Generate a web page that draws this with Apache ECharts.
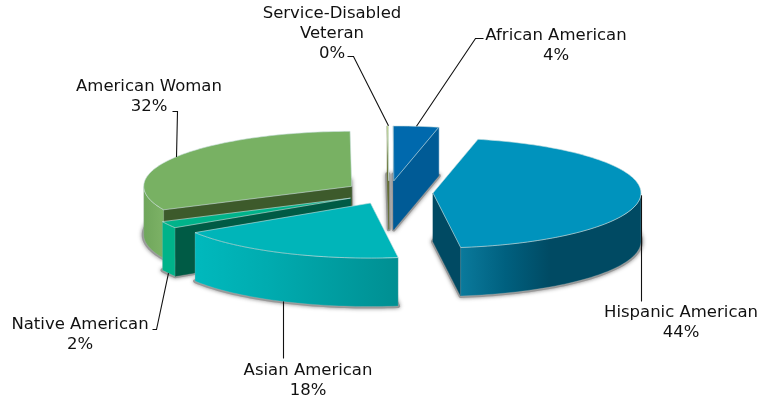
<!DOCTYPE html>
<html><head><meta charset="utf-8">
<style>html,body{margin:0;background:#fff}#c{width:773px;height:401px}</style>
<script src="https://cdn.jsdelivr.net/npm/echarts@6/dist/echarts.min.js"></script>
</head><body><div id="c"></div>
<script>
// data
const categories = ['Hispanic American','Asian American','Native American','American Woman','Service-Disabled\nVeteran','African American'];
const values = [44.4,18.1,2,31.9,0.1,3.5];

// styles, in category order
const topColors = ['#0093bd','#00b5b9','#00b38a','#78b163','#b5cc50','#0069ad'];
const cutColors = ['#004a63','#00908f','#005b45','#3d5a2b','#5f6a2a','#005b96'];
const wallStops = [
  [[0,'#0a7a9c'],[.25,'#00607f'],[.5,'#004a63'],[1,'#004a63']],
  [[0,'#00b9bd'],[.35,'#00acb0'],[1,'#008f92']],
  [[0,'#00b38a'],[1,'#00b38a']],
  [[0,'#6fa65b'],[1,'#7db266']],
  [[0,'#5f6a2a'],[1,'#5f6a2a']],
  [[0,'#005b96'],[1,'#005b96']]
];
// back-to-front painting order
const paintOrder = [5,4,3,2,0,1];
// pie geometry
const cx = 389, cy = 192.5, rx = 208, ry = 55, depth = 48.5, explode = 44, startAngle = 12.5;
// label layout: text centre, leader path offsets
const labelCentre = [[681,323],[308,381],[80,334.5],[149,96.5],[332,33.5],[556,45.5]];
const labelLeader = [[[0,106]],[[0,57]],[[-12,56],[-16,56]],[[1,-46],[-4,-46]],[[-35,-70],[-41,-70]],[[59,-88],[67,-88]]];
const leaderOnWall = [false,true,true,false,false,false];

const total = values.reduce((a,b)=>a+b,0);
const rad = d => d*Math.PI/180;
let acc = startAngle;
const slices = values.map((v,i)=>{
  const a0 = acc, a1 = acc + v/total*360; acc = a1;
  const mid = rad((a0+a1)/2);
  return {a0,a1,mid:(a0+a1)/2,
    ax: cx + explode*Math.sin(mid),
    ay: cy - explode*Math.cos(mid)*ry/rx};
});
const pt = (s,a,dy=0)=>[s.ax+rx*Math.sin(rad(a)), s.ay-ry*Math.cos(rad(a))+dy];
const arc = (s,a0,a1,dy=0)=>{
  const n = Math.max(2,Math.ceil(Math.abs(a1-a0)/1.5)), out=[];
  for(let k=0;k<=n;k++) out.push(pt(s,a0+(a1-a0)*k/n,dy));
  return out;
};
const apex = (s,dy=0)=>[s.ax,s.ay+dy];
const poly = (points,style,z2)=>({type:'polygon',shape:{points},style,z2});
const edge = 'rgba(205,225,225,0.75)';

function renderShadow(p){
  const i = paintOrder[p.dataIndex], s = slices[i];
  return poly([apex(s,depth),...arc(s,s.a0,s.a1,depth)],
    {fill:'#999',stroke:'#999',lineWidth:4,lineJoin:'round',shadowBlur:4,shadowColor:'#999'});
}
function renderSlice(p){
  const i = paintOrder[p.dataIndex], s = slices[i], ch = [];
  const cut = a => {
    const e = pt(s,a), b = pt(s,a,depth);
    ch.push(poly([apex(s),e,b,apex(s,depth)],{fill:cutColors[i],stroke:cutColors[i],lineWidth:.5}));
  };
  const sa0 = Math.sin(rad(s.a0)), sa1 = Math.sin(rad(s.a1));
  if(sa0<0) cut(s.a0);
  if(sa1>0) cut(s.a1);
  const w0 = Math.max(s.a0,90), w1 = Math.min(s.a1,270);
  if(w1>w0){
    ch.push(poly([...arc(s,w0,w1),...arc(s,w1,w0,depth)],{
      fill:new echarts.graphic.LinearGradient(0,0,1,0,wallStops[i].map(([offset,color])=>({offset,color}))),
      stroke:'rgba(170,190,190,.5)',lineWidth:.5}));
  }
  ch.push(poly([apex(s),...arc(s,s.a0,s.a1)],{fill:topColors[i],stroke:edge,lineWidth:.8,lineJoin:'round'}));
  return {type:'group',children:ch};
}
function renderLabel(p){
  const i = p.dataIndex, s = slices[i];
  const a = pt(s,s.mid,leaderOnWall[i]?depth:0);
  const crisp = v => Math.round(v)+.5;
  const pts = [[crisp(a[0]),a[1]],...labelLeader[i].map(o=>[crisp(a[0]+o[0]),crisp(a[1]+o[1])])];
  return {type:'group',children:[
    {type:'polyline',shape:{points:pts},style:{stroke:'#111',lineWidth:1.1,fill:null}},
    {type:'text',x:labelCentre[i][0],y:labelCentre[i][1],style:{
      text:categories[i]+'\n'+Math.round(values[i]/total*100)+'%',
      fill:'#111',font:'16.5px "DejaVu Sans"',lineHeight:19.8,align:'center',verticalAlign:'middle'}}
  ]};
}
const chart = echarts.init(document.getElementById('c'),null,{renderer:'canvas'});
const painted = paintOrder.map(i=>({name:categories[i],value:values[i]}));
chart.setOption({
  animation:false,
  backgroundColor:'#fff',
  series:[
    {type:'custom',coordinateSystem:'none',z:1,silent:true,renderItem:renderShadow,data:painted},
    {type:'custom',coordinateSystem:'none',z:2,silent:true,renderItem:renderSlice,data:painted},
    {type:'custom',coordinateSystem:'none',z:3,silent:true,renderItem:renderLabel,data:categories.map((n,i)=>({name:n,value:values[i]}))}
  ]
});
</script></body></html>
